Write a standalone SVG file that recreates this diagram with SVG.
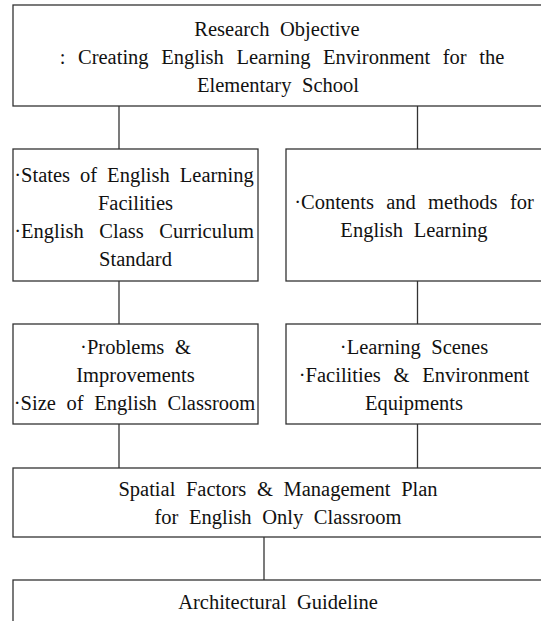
<svg xmlns="http://www.w3.org/2000/svg" width="541" height="621" viewBox="0 0 541 621">
<style>
rect{fill:#fff;stroke:#333;stroke-width:1.3}
line{stroke:#333;stroke-width:1.3}
text{font-family:"Liberation Serif","Times New Roman",serif;font-size:20.5px;fill:#111;text-anchor:middle;word-spacing:5.5px}
</style>
<rect x="0" y="0" width="541" height="621" style="stroke:none"/>
<g id="connectors">
<line x1="119" y1="106" x2="119" y2="149"/>
<line x1="417.5" y1="106" x2="417.5" y2="149"/>
<line x1="119" y1="281" x2="119" y2="324"/>
<line x1="417.5" y1="281" x2="417.5" y2="324"/>
<line x1="119" y1="424" x2="119" y2="468"/>
<line x1="417.5" y1="424" x2="417.5" y2="468"/>
<line x1="264" y1="537" x2="264" y2="580"/>
</g>
<g id="objective">
<rect x="13" y="5" width="529" height="101"/>
<text x="277" y="36">Research Objective</text>
<text x="282" y="64" style="word-spacing:7.5px">: Creating English Learning Environment for the</text>
<text x="278" y="92">Elementary School</text>
</g>
<g id="states">
<rect x="13" y="149" width="245" height="132"/>
<text x="134" y="182" style="word-spacing:4.9px">·States of English Learning</text>
<text x="135.5" y="210">Facilities</text>
<text x="134" y="238" style="word-spacing:10.5px">·English Class Curriculum</text>
<text x="135.5" y="266">Standard</text>
</g>
<g id="contents">
<rect x="286" y="149" width="256" height="132"/>
<text x="414" y="209" style="word-spacing:7.2px">·Contents and methods for</text>
<text x="414" y="237">English Learning</text>
</g>
<g id="problems">
<rect x="13" y="324" width="245" height="100"/>
<text x="135.5" y="354">·Problems &amp;</text>
<text x="135.5" y="382">Improvements</text>
<text x="134.5" y="410">·Size of English Classroom</text>
</g>
<g id="scenes">
<rect x="286" y="324" width="256" height="100"/>
<text x="414" y="354">·Learning Scenes</text>
<text x="414" y="382" style="word-spacing:7.6px">·Facilities &amp; Environment</text>
<text x="414" y="410">Equipments</text>
</g>
<g id="spatial">
<rect x="13" y="468" width="529" height="69"/>
<text x="278" y="496">Spatial Factors &amp; Management Plan</text>
<text x="278" y="524">for English Only Classroom</text>
</g>
<g id="guideline">
<rect x="13" y="580" width="529" height="60"/>
<text x="278" y="609">Architectural Guideline</text>
</g>
</svg>
